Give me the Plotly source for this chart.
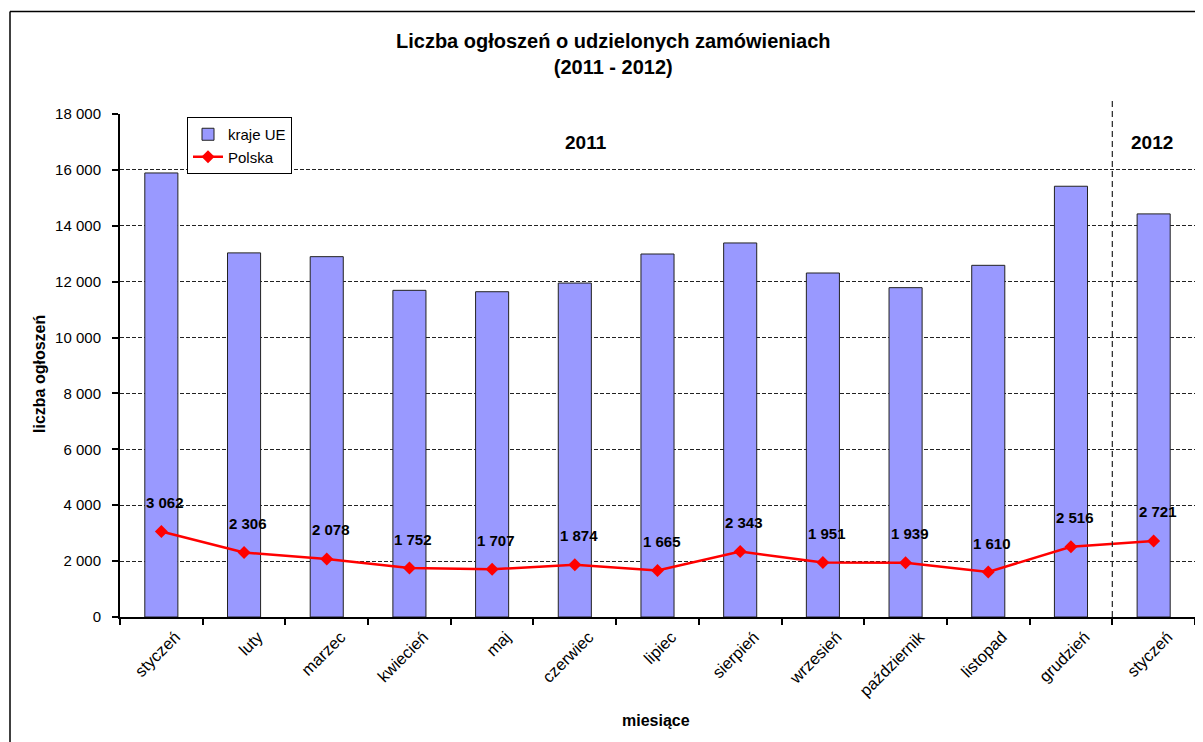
import plotly.graph_objects as go

months = ["styczeń", "luty", "marzec", "kwiecień", "maj", "czerwiec", "lipiec",
          "sierpień", "wrzesień", "październik", "listopad", "grudzień", "styczeń"]
cat_ids = [f"{m}|{i}" for i, m in enumerate(months)]
eu_values = [15890, 13030, 12895, 11690, 11640, 11950, 12990, 13385, 12310, 11785, 12585, 15415, 14425]
pl_values = [3062, 2306, 2078, 1752, 1707, 1874, 1665, 2343, 1951, 1939, 1610, 2516, 2721]
y_ticks = list(range(0, 18001, 2000))

OFF = 8  # page body margin
W, H = 1203 - OFF, 742 - OFF
L, R, T, B = 120 - OFF, 8, 114 - OFF, 742 - 617
pw, ph = W - L - R, H - T - B


def px_x(p):
    return (p - OFF - L) / pw


def px_y(p):
    return (H - B - (p - OFF)) / ph


FONT = "Liberation Sans, Arial, sans-serif"

fig = go.Figure()
fig.add_trace(go.Bar(
    x=cat_ids, y=eu_values, name="kraje UE", width=0.4,
    marker=dict(color="#9999FF", line=dict(color="#222222", width=1)),
))
fig.add_trace(go.Scatter(
    x=cat_ids, y=pl_values, name="Polska", mode="lines+markers",
    line=dict(color="#FF0000", width=2.5),
    marker=dict(symbol="diamond", size=10, color="#FF0000"),
))

annotations = []
for c, v in zip(cat_ids, pl_values):
    annotations.append(dict(
        x=c, y=v, xref="x", yref="y", text=f"{v:,}".replace(",", " "),
        showarrow=False, yshift=29, xshift=4, xanchor="center", yanchor="middle",
        font=dict(family=FONT, size=15, color="black", weight="bold"),
    ))


def txt(x, y, text, size, **kw):
    return dict(x=px_x(x), y=px_y(y), xref="paper", yref="paper", text=text,
                showarrow=False, xanchor="center", yanchor="middle",
                font=dict(family=FONT, size=size, color="black", weight="bold"), **kw)


annotations += [
    txt(586, 142, "2011", 19),
    txt(1152, 142, "2012", 19),
    txt(613, 54, "Liczba ogłoszeń o udzielonych zamówieniach<br>(2011 - 2012)", 20),
    txt(40, 374, "liczba ogłoszeń", 16, textangle=-90),
    txt(656, 720, "miesiące", 16),
]

shapes = [
    dict(type="line", xref="x", yref="paper", x0=11.5, x1=11.5, y0=0, y1=px_y(97),
         line=dict(color="#222222", width=1.2, dash="6px,4px")),
    dict(type="line", xref="paper", yref="paper", x0=px_x(10), x1=px_x(10),
         y0=px_y(760), y1=px_y(11.5), line=dict(color="black", width=1.5)),
    dict(type="line", xref="paper", yref="paper", x0=px_x(10), x1=px_x(1220),
         y0=px_y(11.5), y1=px_y(11.5), line=dict(color="black", width=1.5)),
]

fig.update_layout(
    width=W, height=H,
    margin=dict(l=L, r=R, t=T, b=B),
    paper_bgcolor="white", plot_bgcolor="white",
    separators=", ",
    font=dict(family=FONT, size=15, color="black"),
    showlegend=True,
    legend=dict(x=px_x(187), y=px_y(117), xanchor="left", yanchor="top",
                bgcolor="white", bordercolor="black", borderwidth=1,
                font=dict(family=FONT, size=15, color="black"),
                tracegroupgap=2, itemwidth=30),
    annotations=annotations,
    shapes=shapes,
)
fig.update_xaxes(
    type="category", range=[-0.5, 12.5],
    tickvals=cat_ids, ticktext=months, tickangle=-45,
    tickson="boundaries", ticks="outside", ticklen=6, tickcolor="black", tickwidth=1.5,
    ticklabelshift=14, ticklabelstandoff=2,
    showline=True, linecolor="black", linewidth=2, showgrid=False,
    tickfont=dict(family=FONT, size=16.5, color="black"),
)
fig.update_yaxes(
    range=[0, 18000], tickvals=y_ticks, tickformat=",d",
    ticks="outside", ticklen=6, tickcolor="black", tickwidth=1.5,
    ticklabelstandoff=8,
    showline=True, linecolor="black", linewidth=2,
    showgrid=True, gridcolor="#222222", gridwidth=1, griddash="4px,2px",
    zeroline=False,
    tickfont=dict(family=FONT, size=15, color="black"),
)

fig.write_html("out.html")
